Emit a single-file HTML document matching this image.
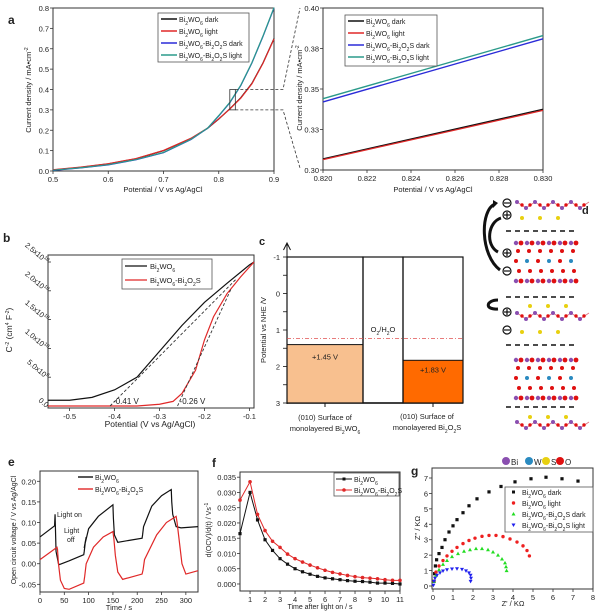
<!DOCTYPE html>
<html><head><meta charset="utf-8">
<style>
html,body{margin:0;padding:0;background:#fff;}
svg{display:block;font-family:"Liberation Sans",Arial,sans-serif;}
text{fill:#222;}
</style></head>
<body>
<svg id="fig" width="600" height="611" viewBox="0 0 600 611" xmlns="http://www.w3.org/2000/svg">
<g id="layer"></g>
</svg>
<script>
// ---------- DATA ----------
const aPotential=[0.5,0.55,0.6,0.65,0.7,0.75,0.78,0.8,0.82,0.84,0.86,0.88,0.9];
const aBwoDark=[0.005,0.018,0.035,0.06,0.1,0.16,0.21,0.255,0.305,0.36,0.43,0.53,0.65];
const aBwoLight=[0.006,0.019,0.036,0.061,0.101,0.161,0.211,0.256,0.304,0.358,0.428,0.528,0.648];
const aHetDark=[0.003,0.015,0.03,0.055,0.09,0.155,0.21,0.27,0.335,0.42,0.53,0.66,0.8];
const aHetLight=[0.004,0.016,0.031,0.056,0.091,0.156,0.211,0.272,0.337,0.422,0.532,0.662,0.802];
const azPotential=[0.82,0.83];
const azBwoDark=[0.3068,0.3375];
const azBwoLight=[0.3064,0.3368];
const azHetDark=[0.342,0.381];
const azHetLight=[0.344,0.383];
const bPotBwo=[-0.548,-0.5,-0.45,-0.4,-0.35,-0.3,-0.25,-0.2,-0.15,-0.1,-0.09];
const bBwo=[0.1,0.1,0.15,0.28,0.5,0.95,1.4,1.8,2.13,2.45,2.5];
const bPotHet=[-0.548,-0.35,-0.3,-0.27,-0.25,-0.22,-0.2,-0.18,-0.15,-0.12,-0.09];
const bHet=[0,0,0.03,0.08,0.22,0.62,1.15,1.55,1.95,2.24,2.5];
const bFlatband=[-0.41,-0.26];
const cBandEdges=[1.4,1.83];
const cWaterOx=1.23;
const eTime=[0,30,31,33,38,40,60,90,91,93,100,120,150,151,153,160,185,210,211,213,230,250,270,271,273,280,290,325];
const eBwo=[0.065,0.092,0.12,0.03,0.0,-0.002,0.007,0.022,0.03,0.05,0.085,0.115,0.143,0.11,0.07,0.052,0.057,0.062,0.07,0.09,0.14,0.165,0.18,0.15,0.12,0.09,0.087,0.09];
const eTimeHet=[0,35,36,38,42,50,60,90,92,95,110,130,150,152,155,160,170,210,212,215,240,260,280,282,285,292,300,325];
const eHet=[0.01,0.04,0.035,0.0,-0.04,-0.06,-0.062,-0.047,-0.03,0.0,0.04,0.065,0.078,0.06,0.02,-0.02,-0.038,-0.025,-0.015,0.01,0.07,0.1,0.115,0.1,0.07,0.0,-0.025,-0.017];
const fTime=[0.33,1,1.5,2,2.5,3,3.5,4,4.5,5,5.5,6,6.5,7,7.5,8,8.5,9,9.5,10,10.5,11];
const fBwo=[0.0165,0.03,0.021,0.0145,0.011,0.0083,0.0065,0.005,0.004,0.0032,0.0025,0.002,0.0017,0.0014,0.0011,0.0009,0.0008,0.0006,0.0003,0.0003,0.0002,0.0];
const fHet=[0.0275,0.0335,0.0228,0.0175,0.014,0.012,0.0098,0.0083,0.0072,0.0062,0.0053,0.0045,0.0038,0.0033,0.0028,0.0024,0.0021,0.0019,0.0017,0.0014,0.0012,0.0012];
const gDarkRe=[0.05,0.08,0.12,0.18,0.3,0.45,0.6,0.8,1.0,1.2,1.5,1.8,2.2,2.8,3.4,4.1,4.9,5.65,6.45,7.25];
const gDarkIm=[0.3,0.8,1.3,1.7,2.1,2.5,3.0,3.5,3.9,4.3,4.75,5.2,5.65,6.1,6.45,6.75,6.95,7.05,6.95,6.8];
const gLightRe=[0.05,0.15,0.3,0.5,0.7,0.95,1.2,1.5,1.8,2.1,2.45,2.8,3.15,3.5,3.85,4.2,4.5,4.7,4.82];
const gLightIm=[0.3,0.9,1.3,1.65,1.95,2.25,2.5,2.75,2.95,3.1,3.22,3.28,3.28,3.2,3.05,2.85,2.6,2.3,1.95];
const gHetDarkRe=[0.05,0.15,0.3,0.5,0.7,0.95,1.25,1.55,1.85,2.15,2.45,2.75,3.0,3.25,3.45,3.6,3.65,3.68];
const gHetDarkIm=[0.3,0.7,1.05,1.4,1.65,1.9,2.1,2.25,2.35,2.42,2.42,2.35,2.2,2.0,1.75,1.5,1.25,1.0];
const gHetLightRe=[0.02,0.05,0.1,0.2,0.35,0.5,0.7,0.95,1.2,1.45,1.65,1.8,1.88,1.9,1.88];
const gHetLightIm=[0.05,0.3,0.5,0.7,0.85,0.97,1.05,1.1,1.12,1.08,0.98,0.85,0.7,0.5,0.3];

// ---------- HELPERS ----------
const NS="http://www.w3.org/2000/svg";
const root=document.getElementById('layer');
function mk(tag,attrs,name,parent){
  const el=document.createElementNS(NS,tag);
  for(const k in attrs) el.setAttribute(k,attrs[k]);
  
  
  (parent||root).appendChild(el);
  return el;
}
function txt(x,y,s,name,opt){
  opt=opt||{};
  const t=mk('text',{x:x,y:y,'font-size':opt.size||8,'text-anchor':opt.anchor||'start'},name,opt.parent);
  if(opt.weight) t.setAttribute('font-weight',opt.weight);
  if(opt.rot!==undefined) t.setAttribute('transform','rotate('+opt.rot+' '+x+' '+y+')');
  if(opt.fill) t.setAttribute('style','fill:'+opt.fill);
  t.innerHTML=s;
  return t;
}
function lin(d0,d1,r0,r1){return v=>r0+(v-d0)*(r1-r0)/(d1-d0);}
function path(xs,ys,sx,sy,color,name,w,dash){
  let d='';
  for(let i=0;i<xs.length;i++) d+=(i?'L':'M')+sx(xs[i]).toFixed(2)+' '+sy(ys[i]).toFixed(2);
  const p=mk('path',{d:d,fill:'none',stroke:color,'stroke-width':w||1.2},name);
  if(dash) p.setAttribute('stroke-dasharray',dash);
  return p;
}
function box(x0,y0,x1,y1,name){mk('rect',{x:x0,y:y0,width:x1-x0,height:y1-y0,fill:'none',stroke:'#333','stroke-width':1},name);}
function xticks(vals,labels,sx,yb,name){
  vals.forEach((v,i)=>{
    mk('line',{x1:sx(v),x2:sx(v),y1:yb,y2:yb+3,stroke:'#333','stroke-width':0.8},name+'-tick');
    txt(sx(v),yb+11,labels[i],name+'-label',{anchor:'middle',size:7.5});
  });
}
function yticks(vals,labels,sy,xl,name){
  vals.forEach((v,i)=>{
    mk('line',{x1:xl-3,x2:xl,y1:sy(v),y2:sy(v),stroke:'#333','stroke-width':0.8},name+'-tick');
    txt(xl-4,sy(v)+3,labels[i],name+'-label',{anchor:'end',size:7.5});
  });
}
const SUB=s=>'<tspan font-size="5" baseline-shift="sub">'+s+'</tspan>';
const BWO='Bi'+SUB('2')+'WO'+SUB('6');
const BOS='Bi'+SUB('2')+'O'+SUB('2')+'S';

// ---------- PANEL A (left) ----------
{
 const sx=lin(0.5,0.9,53,274), sy=lin(0,0.8,171,8);
 txt(8,24,'a','panel-label-a',{size:12,weight:'bold'});
 box(53,8,274,171,'panel-a-plot-area');
 xticks([0.5,0.6,0.7,0.8,0.9],['0.5','0.6','0.7','0.8','0.9'],sx,171,'a-x-axis');
 yticks([0,0.1,0.2,0.3,0.4,0.5,0.6,0.7,0.8],['0.0','0.1','0.2','0.3','0.4','0.5','0.6','0.7','0.8'],sy,53,'a-y-axis');
 txt(163,192,'Potential / V vs Ag/AgCl','a-x-axis-title',{anchor:'middle',size:7.5});
 txt(31,90,'Current density / mA•cm<tspan baseline-shift="super" font-size="5">-2</tspan>','a-y-axis-title',{anchor:'middle',size:7.5,rot:-90});
 path(aPotential,aBwoDark,sx,sy,'#111','line-bwo-dark');
 path(aPotential,aBwoLight,sx,sy,'#e02828','line-bwo-light');
 path(aPotential,aHetDark,sx,sy,'#2b2bd8','line-het-dark');
 path(aPotential,aHetLight,sx,sy,'#2a9a8a','line-het-light');
 mk('rect',{x:sx(0.82),y:sy(0.4),width:sx(0.83)-sx(0.82),height:sy(0.3)-sy(0.4),fill:'none',stroke:'#333','stroke-width':0.8},'zoom-box');
 mk('path',{d:'M'+sx(0.83)+' '+sy(0.4)+'L283 '+sy(0.4)+'L300 8',fill:'none',stroke:'#333','stroke-width':0.8,'stroke-dasharray':'3 2'},'zoom-connector-top');
 mk('path',{d:'M'+sx(0.83)+' '+sy(0.3)+'L283 '+sy(0.3)+'L300 168',fill:'none',stroke:'#333','stroke-width':0.8,'stroke-dasharray':'3 2'},'zoom-connector-bottom');
 mk('rect',{x:158,y:13,width:91,height:49,fill:'#fff',stroke:'#555','stroke-width':0.8},'a-legend');
 const cols=['#111','#e02828','#2b2bd8','#2a9a8a'];
 const labs=[BWO+' dark',BWO+' light',BWO+'-'+BOS+' dark',BWO+'-'+BOS+' light'];
 labs.forEach((l,i)=>{const y=19+i*12;
   mk('line',{x1:161,x2:177,y1:y,y2:y,stroke:cols[i],'stroke-width':1.5},'a-legend-swatch');
   txt(179,y+3,l,'a-legend-entry',{size:7});});
}
// ---------- PANEL A (right) ----------
{
 const sx=lin(0.82,0.83,323,543), sy=lin(0.30,0.40,170,8);
 box(323,8,543,170,'panel-a-zoom-plot-area');
 const xv=[0.82,0.822,0.824,0.826,0.828,0.83];
 xticks(xv,xv.map(v=>v.toFixed(3)),sx,170,'a-zoom-x-axis');
 yticks([0.3,0.325,0.35,0.375,0.4],['0.30','0.33','0.35','0.38','0.40'],sy,323,'a-zoom-y-axis');
 txt(433,192,'Potential / V vs Ag/AgCl','a-zoom-x-axis-title',{anchor:'middle',size:7.5});
 txt(302,88,'Current density / mA•cm<tspan baseline-shift="super" font-size="5">-2</tspan>','a-zoom-y-axis-title',{anchor:'middle',size:7.5,rot:-90});
 path(azPotential,azBwoDark,sx,sy,'#111','zoom-line-bwo-dark',1.4);
 path(azPotential,azBwoLight,sx,sy,'#e02828','zoom-line-bwo-light',1.2);
 path(azPotential,azHetDark,sx,sy,'#2b2bd8','zoom-line-het-dark',1.4);
 path(azPotential,azHetLight,sx,sy,'#2a9a8a','zoom-line-het-light',1.4);
 mk('rect',{x:345,y:15,width:92,height:51,fill:'#fff',stroke:'#555','stroke-width':0.8},'a-zoom-legend');
 const cols=['#111','#e02828','#2b2bd8','#2a9a8a'];
 const labs=[BWO+' dark',BWO+' light',BWO+'-'+BOS+' dark',BWO+'-'+BOS+' light'];
 labs.forEach((l,i)=>{const y=21+i*12;
   mk('line',{x1:348,x2:364,y1:y,y2:y,stroke:cols[i],'stroke-width':1.5},'a-zoom-legend-swatch');
   txt(366,y+3,l,'a-zoom-legend-entry',{size:7});});
}
// ---------- PANEL B ----------
{
 const sx=lin(-0.548,-0.09,48,254), sy=lin(0,2.5,406,262);
 txt(3,242,'b','panel-label-b',{size:12,weight:'bold'});
 box(48,255,254,408,'panel-b-plot-area');
 xticks([-0.5,-0.4,-0.3,-0.2,-0.1],['-0.5','-0.4','-0.3','-0.2','-0.1'],sx,408,'b-x-axis');
 const yl=['0.0','5.0x10<tspan font-size="5" baseline-shift="super">9</tspan>','1.0x10<tspan font-size="5" baseline-shift="super">10</tspan>','1.5x10<tspan font-size="5" baseline-shift="super">10</tspan>','2.0x10<tspan font-size="5" baseline-shift="super">10</tspan>','2.5x10<tspan font-size="5" baseline-shift="super">10</tspan>'];
 [0,0.5,1,1.5,2,2.5].forEach((v,i)=>{
   mk('line',{x1:48,x2:51,y1:sy(v),y2:sy(v),stroke:'#333','stroke-width':0.8},'b-y-axis-tick');
   txt(46,sy(v)+2,yl[i],'b-y-axis-label',{anchor:'end',size:7.5,rot:40});
 });
 txt(150,427,'Potential (V vs Ag/AgCl)','b-x-axis-title',{anchor:'middle',size:8.5});
 txt(12,330,'C<tspan baseline-shift="super" font-size="5">-2</tspan> (cm<tspan baseline-shift="super" font-size="5">4</tspan> F<tspan baseline-shift="super" font-size="5">-2</tspan>)','b-y-axis-title',{anchor:'middle',size:8.5,rot:-90});
 path(bPotBwo,bBwo,sx,sy,'#111','line-bwo-mott-schottky');
 path(bPotHet,bHet,sx,sy,'#e02828','line-het-mott-schottky');
 path([bFlatband[0],-0.13],[0,2.2],sx,sy,'#333','tangent-bwo',0.9,'3 2');
 path([bFlatband[1],-0.14],[0,2.05],sx,sy,'#333','tangent-het',0.9,'3 2');
 txt(sx(bFlatband[0])+3,404,bFlatband[0].toFixed(2)+' V','flatband-label-bwo',{size:8});
 txt(sx(bFlatband[1])+2,404,bFlatband[1].toFixed(2)+' V','flatband-label-het',{size:8});
 mk('rect',{x:122,y:259,width:90,height:30,fill:'#fff',stroke:'#555','stroke-width':0.8},'b-legend');
 mk('line',{x1:125,x2:147,y1:266,y2:266,stroke:'#111','stroke-width':1.2},'b-legend-swatch');
 txt(150,269,BWO,'b-legend-entry',{size:7.5});
 mk('line',{x1:125,x2:147,y1:280,y2:280,stroke:'#e02828','stroke-width':1.2},'b-legend-swatch');
 txt(150,283,BWO+'-'+BOS,'b-legend-entry',{size:7.5});
}
// ---------- PANEL C ----------
{
 const sy=lin(-1,3,257,403);
 txt(259,245,'c','panel-label-c',{size:11,weight:'bold'});
 mk('line',{x1:287,x2:287,y1:244,y2:404,stroke:'#111','stroke-width':1},'c-y-axis');
 mk('path',{d:'M283.5 250L287 243L290.5 250',fill:'none',stroke:'#111','stroke-width':1},'c-y-axis-arrow');
 [-1,-0.5,0,0.5,1,1.5,2,2.5,3].forEach(v=>{
   mk('line',{x1:283,x2:287,y1:sy(v),y2:sy(v),stroke:'#111','stroke-width':0.8},'c-y-axis-tick');
   if(Number.isInteger(v)) txt(280,sy(v)+3,String(v),'c-y-axis-label',{anchor:'end',size:7.5});
 });
 txt(266,330,'Potential vs NHE /V','c-y-axis-title',{anchor:'middle',size:7.5,rot:-90});
 mk('line',{x1:287,x2:463,y1:403,y2:403,stroke:'#111','stroke-width':1.5},'c-x-axis');
 mk('rect',{x:287,y:sy(cBandEdges[0]),width:76,height:sy(3)-sy(cBandEdges[0]),fill:'#f8c08f',stroke:'#111','stroke-width':1},'vb-bwo');
 mk('rect',{x:403,y:sy(cBandEdges[1]),width:60,height:sy(3)-sy(cBandEdges[1]),fill:'#ff6a00',stroke:'#111','stroke-width':1},'vb-bos');
 mk('rect',{x:287,y:257,width:76,height:sy(3)-257,fill:'none',stroke:'#111','stroke-width':1.2},'column-bwo');
 mk('rect',{x:363,y:257,width:40,height:sy(3)-257,fill:'none',stroke:'#111','stroke-width':1.2},'column-water');
 mk('rect',{x:403,y:257,width:60,height:sy(3)-257,fill:'none',stroke:'#111','stroke-width':1.2},'column-bos');
 mk('line',{x1:287,x2:463,y1:sy(cWaterOx),y2:sy(cWaterOx),stroke:'#e05050','stroke-width':0.8,'stroke-dasharray':'4 2 1 2'},'water-oxidation-line');
 txt(383,332,'O'+SUB('2')+'/H'+SUB('2')+'O','water-oxidation-label',{anchor:'middle',size:7.5});
 txt(325,sy(cBandEdges[0])+15,'+1.45 V','vb-bwo-label',{anchor:'middle',size:7.5});
 txt(433,sy(cBandEdges[1])+12,'+1.83 V','vb-bos-label',{anchor:'middle',size:7.5});
 mk('line',{x1:325,x2:325,y1:403,y2:407,stroke:'#111'},'c-x-tick');
 mk('line',{x1:433,x2:433,y1:403,y2:407,stroke:'#111'},'c-x-tick');
 txt(325,420,'(010) Surface of','c-category-bwo',{anchor:'middle',size:7.5});
 txt(325,431,'monolayered '+BWO,'c-category-bwo',{anchor:'middle',size:7.5});
 txt(427,419,'(010) Surface of','c-category-bos',{anchor:'middle',size:7.5});
 txt(427,430,'monolayered '+BOS,'c-category-bos',{anchor:'middle',size:7.5});
}
// ---------- PANEL D (structure illustration) ----------
{
 txt(582,214,'d','panel-label-d',{size:11,weight:'bold'});
 const atom=(x,y,r,c,n)=>mk('circle',{cx:x,cy:y,r:r,fill:c},n);
 function bos(y0,topS,botS){
   for(let i=0;i<4;i++){const x=517+i*18;
     mk('path',{d:'M'+x+' '+y0+'L'+(x+9)+' '+(y0+6)+'L'+(x+18)+' '+y0,fill:'none',stroke:'#e07080','stroke-width':0.8},'bos-bond');
     atom(x,y0,2,'#8a4fb0','bi-atom');atom(x+9,y0+6,2,'#8a4fb0','bi-atom');
     atom(x+5,y0+3,1.7,'#e01010','o-atom');atom(x+13,y0+3,1.7,'#e01010','o-atom');}
   for(let i=0;i<3;i++){
     if(topS!==null) atom(530+i*18,topS,2,'#e8d010','s-atom');
     if(botS!==null) atom(522+i*18,botS,2,'#e8d010','s-atom');}
 }
 function bwo(y0){
   for(let i=0;i<6;i++){const x=516+i*11;
     atom(x,y0,2.2,'#8a4fb0','bi-atom');atom(x+5,y0,2.4,'#e01010','o-atom');
     atom(x+2,y0+8,2,'#e01010','o-atom');
     atom(x,y0+18,2,i%2?'#2a8ac0':'#e01010','w-atom');
     atom(x+3,y0+28,2,'#e01010','o-atom');
     atom(x,y0+38,2.2,'#8a4fb0','bi-atom');atom(x+5,y0+38,2.4,'#e01010','o-atom');}
 }
 bos(202,null,218);
 bwo(243);
 bos(313,306,332);
 bwo(360);
 bos(422,417,null);
 [231,297,345,407].forEach(y=>mk('line',{x1:506,x2:578,y1:y,y2:y,stroke:'#111','stroke-width':1.5,'stroke-dasharray':'5 4'},'layer-separator'));
 const sym=(x,y,s,n)=>{mk('circle',{cx:x,cy:y,r:4,fill:'#fff',stroke:'#111','stroke-width':1.2},n);
   mk('line',{x1:x-3,x2:x+3,y1:y,y2:y,stroke:'#111','stroke-width':1.2},n);
   if(s==='+') mk('line',{x1:x,x2:x,y1:y-3,y2:y+3,stroke:'#111','stroke-width':1.2},n);};
 sym(507,203,'-','negative-charge');sym(507,215,'+','positive-charge');
 sym(507,253,'+','positive-charge');sym(507,271,'-','negative-charge');
 sym(507,312,'+','positive-charge');sym(507,330,'-','negative-charge');
 mk('path',{d:'M500 270C480 255 480 210 495 204',fill:'none',stroke:'#111','stroke-width':3},'charge-arrow');
 mk('path',{d:'M493 200L498 203L493 208Z',fill:'#111'},'charge-arrow-head');
 mk('path',{d:'M501 218C488 222 485 245 498 252',fill:'none',stroke:'#111','stroke-width':3},'charge-arrow');
 mk('path',{d:'M498 300C486 300 484 310 498 309',fill:'none',stroke:'#111','stroke-width':3},'charge-arrow');
 const leg=[['#8a4fb0','Bi',506],['#2a8ac0','W',529],['#e8d010','S',546],['#e01010','O',560]];
 leg.forEach(l=>{atom(l[2],461,4,l[0],'atom-legend-swatch');txt(l[2]+5,465,l[1],'atom-legend-label',{size:8});});
}
// ---------- PANEL E ----------
{
 const sx=lin(0,325,40,198), sy=lin(-0.0686,0.225,592,471);
 txt(8,466,'e','panel-label-e',{size:12,weight:'bold'});
 box(40,471,198,592,'panel-e-plot-area');
 xticks([0,50,100,150,200,250,300],['0','50','100','150','200','250','300'],sx,592,'e-x-axis');
 yticks([-0.05,0,0.05,0.1,0.15,0.2],['-0.05','0.00','0.05','0.10','0.15','0.20'],sy,40,'e-y-axis');
 txt(119,610,'Time / s','e-x-axis-title',{anchor:'middle',size:7.5});
 txt(16,530,'Open circuit voltage / V vs Ag/AgCl','e-y-axis-title',{anchor:'middle',size:7,rot:-90});
 path(eTime,eBwo,sx,sy,'#111','line-ocv-bwo');
 path(eTimeHet,eHet,sx,sy,'#e02828','line-ocv-het');
 mk('line',{x1:78,x2:93,y1:477,y2:477,stroke:'#111','stroke-width':1.4},'e-legend-swatch');
 txt(95,480,BWO,'e-legend-entry',{size:7});
 mk('line',{x1:78,x2:93,y1:489,y2:489,stroke:'#e02828','stroke-width':1.4},'e-legend-swatch');
 txt(95,492,BWO+'-'+BOS,'e-legend-entry',{size:7});
 txt(57,517,'Light on','light-on-label',{size:7});
 txt(64,533,'Light','light-off-label',{size:7});
 txt(67,542,'off','light-off-label',{size:7});
 mk('line',{x1:86,x2:84,y1:537,y2:548,stroke:'#111','stroke-width':0.8},'light-off-arrow');
}
// ---------- PANEL F ----------
{
 const sx=lin(0.33,11,240,400), sy=lin(-0.0023,0.0367,591,472);
 txt(212,467,'f','panel-label-f',{size:12,weight:'bold'});
 box(240,472,400,591,'panel-f-plot-area');
 const xv=[1,2,3,4,5,6,7,8,9,10,11];
 xticks(xv,xv.map(String),sx,591,'f-x-axis');
 const yv=[0,0.005,0.01,0.015,0.02,0.025,0.03,0.035];
 yticks(yv,yv.map(v=>v.toFixed(3)),sy,240,'f-y-axis');
 txt(320,609,'Time after light on / s','f-x-axis-title',{anchor:'middle',size:7});
 txt(211,530,'d(OCV)/d(t) / Vs<tspan baseline-shift="super" font-size="5">-1</tspan>','f-y-axis-title',{anchor:'middle',size:7,rot:-90});
 path(fTime,fBwo,sx,sy,'#111','line-docv-bwo',1);
 path(fTime,fHet,sx,sy,'#e02828','line-docv-het',1);
 fTime.forEach((t,i)=>{mk('rect',{x:sx(t)-1.6,y:sy(fBwo[i])-1.6,width:3.2,height:3.2,fill:'#111'},'point-docv-bwo');});
 fTime.forEach((t,i)=>{mk('circle',{cx:sx(t),cy:sy(fHet[i]),r:1.8,fill:'#e02828'},'point-docv-het');});
 mk('rect',{x:334,y:473,width:65,height:23,fill:'#fff',stroke:'#555','stroke-width':0.8},'f-legend');
 mk('line',{x1:336,x2:352,y1:479,y2:479,stroke:'#111'},'f-legend-swatch');
 mk('rect',{x:342.5,y:477.5,width:3,height:3,fill:'#111'},'f-legend-marker');
 txt(354,482,BWO,'f-legend-entry',{size:7});
 mk('line',{x1:336,x2:352,y1:490,y2:490,stroke:'#e02828'},'f-legend-swatch');
 mk('circle',{cx:344,cy:490,r:1.8,fill:'#e02828'},'f-legend-marker');
 txt(354,493,BWO+'-'+BOS,'f-legend-entry',{size:7});
}
// ---------- PANEL G ----------
{
 const sx=lin(0,8,433,593), sy=lin(0,7,586,478);
 txt(411,475,'g','panel-label-g',{size:12,weight:'bold'});
 box(432,468,593,589,'panel-g-plot-area');
 const xv=[0,1,2,3,4,5,6,7,8];
 xticks(xv,xv.map(String),sx,589,'g-x-axis');
 const yv=[0,1,2,3,4,5,6,7];
 yticks(yv,yv.map(String),sy,432,'g-y-axis');
 txt(513,606,"Z' / KΩ",'g-x-axis-title',{anchor:'middle',size:7.5});
 txt(420,528,"Z'' / KΩ",'g-y-axis-title',{anchor:'middle',size:7.5,rot:-90});
 gDarkRe.forEach((r,i)=>{mk('rect',{x:sx(r)-1.6,y:sy(gDarkIm[i])-1.6,width:3.2,height:3.2,fill:'#111'},'point-eis-bwo-dark');});
 gLightRe.forEach((r,i)=>{mk('circle',{cx:sx(r),cy:sy(gLightIm[i]),r:1.7,fill:'#ee2020'},'point-eis-bwo-light');});
 gHetDarkRe.forEach((r,i)=>{const x=sx(r),y=sy(gHetDarkIm[i]);
   mk('path',{d:'M'+x+' '+(y-2)+'L'+(x+2)+' '+(y+1.5)+'L'+(x-2)+' '+(y+1.5)+'Z',fill:'#22dd22'},'point-eis-het-dark');});
 gHetLightRe.forEach((r,i)=>{const x=sx(r),y=sy(gHetLightIm[i]);
   mk('path',{d:'M'+x+' '+(y+2)+'L'+(x+2)+' '+(y-1.5)+'L'+(x-2)+' '+(y-1.5)+'Z',fill:'#2020ee'},'point-eis-het-light');});
 mk('rect',{x:505,y:487,width:88,height:45,fill:'#fff',stroke:'#555','stroke-width':0.8},'g-legend');
 mk('rect',{x:512,y:490.5,width:3,height:3,fill:'#111'},'g-legend-marker');
 txt(522,495,BWO+' dark','g-legend-entry',{size:7});
 mk('circle',{cx:513.5,cy:503,r:1.7,fill:'#ee2020'},'g-legend-marker');
 txt(522,506,BWO+' light','g-legend-entry',{size:7});
 mk('path',{d:'M513.5 512L515.5 515.5L511.5 515.5Z',fill:'#22dd22'},'g-legend-marker');
 txt(522,517,BWO+'-'+BOS+' dark','g-legend-entry',{size:7});
 mk('path',{d:'M513.5 527L515.5 523.5L511.5 523.5Z',fill:'#2020ee'},'g-legend-marker');
 txt(522,528,BWO+'-'+BOS+' light','g-legend-entry',{size:7});
}
</script>
</body></html>
